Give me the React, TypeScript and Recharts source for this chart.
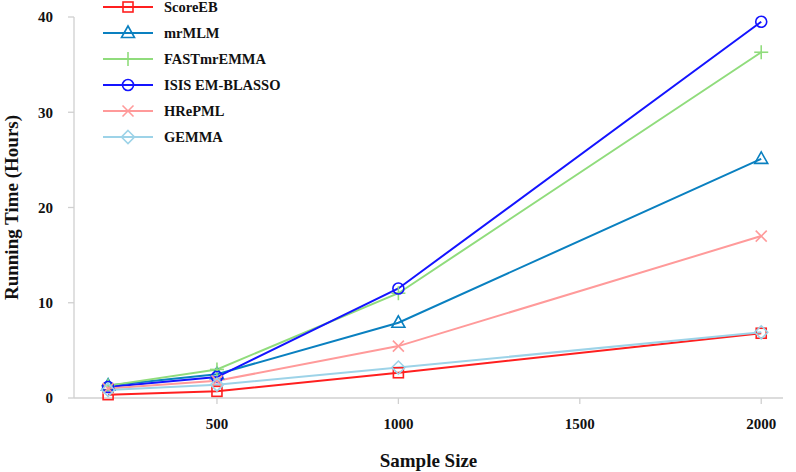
import React from 'react';
import { LineChart, Line, XAxis, YAxis } from 'recharts';

const sampleSizes = [200, 500, 1000, 2000];
const scoreEB = [0.35, 0.7, 2.65, 6.8];
const mrMLM = [1.3, 2.5, 7.9, 25.1];
const fastMrEMMA = [1.3, 3.0, 11.0, 36.3];
const isisEMBLASSO = [1.15, 2.2, 11.5, 39.5];
const hRePML = [1.0, 1.8, 5.45, 17.0];
const gemma = [0.85, 1.4, 3.2, 6.9];

const xTicks = [500, 1000, 1500, 2000];
const yTicks = [0, 10, 20, 30, 40];

const seriesDefs = [
  { key: 'ScoreEB', values: scoreEB, color: '#ff1f1f', shape: 'square' },
  { key: 'mrMLM', values: mrMLM, color: '#0a80c0', shape: 'triangle' },
  { key: 'FASTmrEMMA', values: fastMrEMMA, color: '#90dc7c', shape: 'plus' },
  { key: 'ISIS EM-BLASSO', values: isisEMBLASSO, color: '#1414ff', shape: 'circle' },
  { key: 'HRePML', values: hRePML, color: '#ff9a9a', shape: 'cross' },
  { key: 'GEMMA', values: gemma, color: '#9dd3e8', shape: 'diamond' },
];

const data = sampleSizes.map((s, i) => {
  const row: Record<string, number> = { size: s };
  seriesDefs.forEach((d) => {
    row[d.key] = d.values[i];
  });
  return row;
});

const FONT = "'Liberation Serif', 'Times New Roman', serif";
const AXIS = '#d0d0d0';

function Marker({ shape, cx, cy, color }: { shape: string; cx: number; cy: number; color: string }) {
  const sw = 1.6;
  switch (shape) {
    case 'square':
      return <rect x={cx - 5} y={cy - 5} width={10} height={10} fill="none" stroke={color} strokeWidth={sw} />;
    case 'triangle':
      return (
        <polygon
          points={`${cx},${cy - 7} ${cx - 6.5},${cy + 4.5} ${cx + 6.5},${cy + 4.5}`}
          fill="none"
          stroke={color}
          strokeWidth={sw}
        />
      );
    case 'plus':
      return (
        <g stroke={color} strokeWidth={sw}>
          <line x1={cx - 7} y1={cy} x2={cx + 7} y2={cy} />
          <line x1={cx} y1={cy - 7} x2={cx} y2={cy + 7} />
        </g>
      );
    case 'circle':
      return <circle cx={cx} cy={cy} r={5.5} fill="none" stroke={color} strokeWidth={sw} />;
    case 'cross':
      return (
        <g stroke={color} strokeWidth={sw}>
          <line x1={cx - 5.5} y1={cy - 5.5} x2={cx + 5.5} y2={cy + 5.5} />
          <line x1={cx - 5.5} y1={cy + 5.5} x2={cx + 5.5} y2={cy - 5.5} />
        </g>
      );
    case 'diamond':
      return (
        <polygon
          points={`${cx},${cy - 6.5} ${cx + 6.5},${cy} ${cx},${cy + 6.5} ${cx - 6.5},${cy}`}
          fill="none"
          stroke={color}
          strokeWidth={sw}
        />
      );
    default:
      return null;
  }
}

const makeDot = (shape: string, color: string) => (props: any) => {
  const { cx, cy, index } = props;
  if (cx == null || cy == null) return <g key={`e-${index}`} />;
  return (
    <g key={`d-${shape}-${index}`}>
      <Marker shape={shape} cx={cx} cy={cy} color={color} />
    </g>
  );
};

const LegendBox = () => (
  <div
    style={{
      position: 'absolute',
      left: 103,
      top: -6,
      fontFamily: FONT,
      fontWeight: 'bold',
      fontSize: 14.5,
      color: '#111',
    }}
  >
    {seriesDefs.map((d) => (
      <div key={d.key} style={{ display: 'flex', alignItems: 'center', height: 26 }}>
        <svg width={50} height={20} style={{ display: 'block' }}>
          <line x1={0} y1={10} x2={50} y2={10} stroke={d.color} strokeWidth={2.2} />
          <Marker shape={d.shape} cx={25} cy={10} color={d.color} />
        </svg>
        <span style={{ marginLeft: 11, whiteSpace: 'nowrap' }}>{d.key}</span>
      </div>
    ))}
  </div>
);

const YLabel = (props: any) => {
  const vb = props.viewBox || {};
  const x = (vb.x || 0) + 11;
  const y = (vb.y || 0) + (vb.height || 0) / 2;
  return (
    <text
      x={x}
      y={y}
      transform={`rotate(-90, ${x}, ${y})`}
      textAnchor="middle"
      dominantBaseline="central"
      fontFamily={FONT}
      fontWeight="bold"
      fontSize={19}
      fill="#111"
    >
      Running Time (Hours)
    </text>
  );
};

export default function App() {
  return (
    <div style={{ position: 'absolute', left: 0, top: 0, width: 796, height: 472, background: '#fff' }}>
      <LineChart width={796} height={472} data={data} margin={{ top: 17, right: 13, left: 0, bottom: 0 }}>
        <XAxis
          dataKey="size"
          type="number"
          domain={[106, 2060]}
          ticks={xTicks}
          allowDataOverflow
          height={74}
          tickSize={6}
          tickMargin={14}
          axisLine={{ stroke: AXIS, strokeWidth: 1.3 }}
          tickLine={{ stroke: AXIS, strokeWidth: 1.3 }}
          tick={{ fontFamily: FONT, fontWeight: 'bold', fontSize: 15, fill: '#111' }}
          label={{
            value: 'Sample Size',
            position: 'insideBottom',
            offset: 5,
            style: { fontFamily: FONT, fontWeight: 'bold', fontSize: 19, fill: '#111' },
          }}
        />
        <YAxis
          type="number"
          domain={[0, 40]}
          ticks={yTicks}
          width={74}
          tickSize={6}
          tickMargin={15}
          axisLine={{ stroke: AXIS, strokeWidth: 1.3 }}
          tickLine={{ stroke: AXIS, strokeWidth: 1.3 }}
          tick={{ fontFamily: FONT, fontWeight: 'bold', fontSize: 15, fill: '#111' }}
          label={{ content: YLabel }}
        />
        {seriesDefs.map((d) => (
          <Line
            key={d.key}
            type="linear"
            dataKey={d.key}
            stroke={d.color}
            strokeWidth={2}
            dot={makeDot(d.shape, d.color)}
            activeDot={false}
            isAnimationActive={false}
          />
        ))}
      </LineChart>
      <LegendBox />
    </div>
  );
}
